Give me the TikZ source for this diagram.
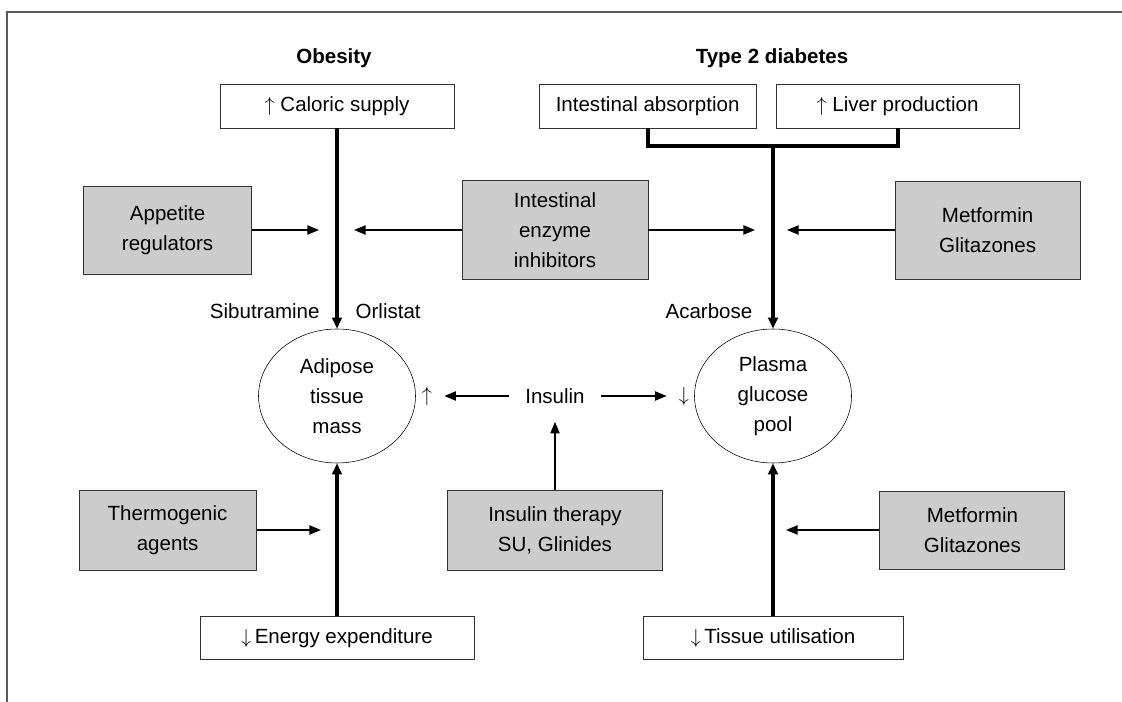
\documentclass[tikz,border=0pt]{standalone}
\usepackage{fontspec}
\setmainfont{Liberation Sans}
\usepackage{tikz}
\usetikzlibrary{arrows.meta,shapes.geometric}
\newcommand{\dfont}{\fontsize{14.6}{21.3}\selectfont}

\begin{document}
\begin{tikzpicture}[x=1cm,y=1cm,
  box/.style={draw=black!80, semithick, align=center, font=\dfont, inner sep=2pt, minimum height=1.1cm},
  drug/.style={draw=black!80, semithick, fill=gray!40, align=center, font=\dfont, inner sep=2pt},
  pool/.style={draw, ellipse, align=center, font=\dfont, minimum width=3.925cm, minimum height=3.35cm, inner sep=0pt},
  arr/.style={-{Triangle[length=2.9mm,width=2.3mm]}, line width=1.05pt},
  bigarr/.style={-{Triangle[length=2.8mm,width=2.4mm]}, line width=2.8pt},
  lab/.style={font=\dfont, inner sep=1pt},
  head/.style={font=\dfont\bfseries, inner sep=1pt}]
\useasboundingbox (0,0) rectangle (28.05,17.55);
\draw[black!65, line width=1.4pt] (0.175,0) |- (28.05,17.25);
\node[head, anchor=base] (OB) at (8.35,15.95)  {Obesity};
\node[head, anchor=base] (TD) at (19.30,15.95) {Type 2 diabetes};
\node[box, minimum width=5.85cm]  (CS) at (8.425,14.9)  {$\uparrow$ Caloric supply};
\node[box, minimum width=5.425cm] (IA) at (16.19,14.9)  {Intestinal absorption};
\node[box, minimum width=6.075cm] (LP) at (22.44,14.9)  {$\uparrow$ Liver production};
\node[drug, minimum width=4.2cm, minimum height=2.2cm]   (AR) at (4.19,11.8)   {Appetite\\regulators};
\node[drug, minimum width=4.65cm, minimum height=2.475cm] (IE) at (13.875,11.8) {Intestinal\\enzyme\\inhibitors};
\node[drug, minimum width=4.625cm, minimum height=2.45cm] (MT) at (24.69,11.8)  {Metformin\\Glitazones};
\node[lab, anchor=base east] (SB) at (8.03,9.575)  {Sibutramine};
\node[lab, anchor=base west] (OR) at (8.85,9.575)  {Orlistat};
\node[lab, anchor=base east] (AC) at (18.85,9.575) {Acarbose};
\node[pool] (AT) at (8.425,7.65)  {Adipose\\tissue\\mass};
\node[pool] (PG) at (19.325,7.65) {Plasma\\glucose\\pool};
\node[lab, inner xsep=0.4cm, inner ysep=0.45cm] (IN) at (13.875,7.65) {Insulin};
\node[lab, inner xsep=0.3cm] (UP) at (10.675,7.65) {$\uparrow$};
\node[lab, inner xsep=0.3cm] (DN) at (17.1,7.65)   {$\downarrow$};
\node[drug, minimum width=4.425cm, minimum height=2.0cm]  (TA) at (4.19,4.3)   {Thermogenic\\agents};
\node[drug, minimum width=5.375cm, minimum height=2.0cm]  (IT) at (13.875,4.3) {Insulin therapy\\SU, Glinides};
\node[drug, minimum width=4.625cm, minimum height=1.95cm] (MB) at (24.31,4.3)  {Metformin\\Glitazones};
\node[box, minimum width=6.85cm, minimum height=1.075cm] (EE) at (8.425,1.59)  {$\downarrow$\,Energy expenditure};
\node[box, minimum width=6.5cm, minimum height=1.075cm]  (TU) at (19.325,1.59) {$\downarrow$\,Tissue utilisation};
\coordinate (JN) at (19.325,13.9);
\coordinate (A1) at (7.975,11.8); \coordinate (A2) at (8.85,11.8);
\coordinate (A3) at (18.875,11.8); \coordinate (A4) at (19.675,11.8);
\coordinate (A5) at (8.025,4.3); \coordinate (A6) at (19.65,4.3);
\draw[line width=2.8pt] (IA.south) |- (JN) -| (LP.south);
\draw[bigarr] (CS) -- (AT); \draw[bigarr] (JN) -- (PG);
\draw[bigarr] (EE) -- (AT); \draw[bigarr] (TU) -- (PG);
\draw[arr] (AR) -- (A1); \draw[arr] (IE) -- (A2);
\draw[arr] (IE) -- (A3); \draw[arr] (MT) -- (A4);
\draw[arr] (TA) -- (A5); \draw[arr] (MB) -- (A6);
\draw[arr] (IN) -- (UP); \draw[arr] (IN) -- (DN);
\draw[arr] (IT) -- (IN);
\end{tikzpicture}
\end{document}
